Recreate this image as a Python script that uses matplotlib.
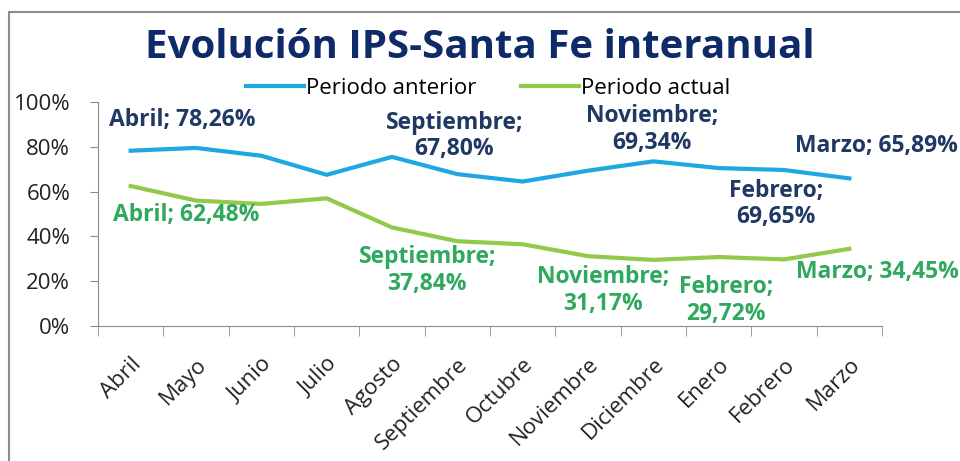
import matplotlib.pyplot as plt
from matplotlib.patches import Rectangle
from matplotlib.ticker import FixedLocator, PercentFormatter

plt.rcParams["font.family"] = ["Open Sans", "DejaVu Sans"]

meses = ["Abril", "Mayo", "Junio", "Julio", "Agosto", "Septiembre", "Octubre",
         "Noviembre", "Diciembre", "Enero", "Febrero", "Marzo"]
anterior = [78.26, 79.5, 76.0, 67.5, 75.5, 67.80, 64.5, 69.34, 73.5, 70.5, 69.65, 65.89]
actual = [62.48, 56.0, 54.5, 57.0, 44.0, 37.84, 36.5, 31.17, 29.5, 30.8, 29.72, 34.45]

azul = "#1ea7e1"
verde = "#92c94a"
azul_txt = "#1f3864"
verde_txt = "#2fa95e"

fig = plt.figure(figsize=(9.6, 4.61), dpi=100)
fig.patches.append(Rectangle((9 / 960, -0.1), 1.2, 1 - 12 / 461 + 0.1,
                             transform=fig.transFigure, fill=False,
                             edgecolor="#8c8c8c", linewidth=1.5))
ax = fig.add_axes([98 / 960, 1 - 326 / 461, 784 / 960, 224 / 461])

x = list(range(len(meses)))
ax.plot(x, anterior, color=azul, linewidth=3, label="Periodo anterior")
ax.plot(x, actual, color=verde, linewidth=3, label="Periodo actual")

ax.set_xlim(-0.5, 11.5)
ax.set_ylim(0, 100)
ax.set_yticks([0, 20, 40, 60, 80, 100])
ax.yaxis.set_major_formatter(PercentFormatter(decimals=0))
ax.set_xticks(x)
ax.set_xticklabels(meses, rotation=45, ha="right", rotation_mode="anchor")
ax.xaxis.set_minor_locator(FixedLocator([i - 0.5 for i in range(13)]))
ax.tick_params(axis="x", which="major", length=0, pad=20, labelsize=16, labelcolor="#222222")
ax.tick_params(axis="x", which="minor", length=7, color="#8c8c8c", direction="out")
ax.tick_params(axis="y", length=6, color="#8c8c8c", labelsize=16, labelcolor="#222222", pad=14)
for s in ["top", "right"]:
    ax.spines[s].set_visible(False)
for s in ["left", "bottom"]:
    ax.spines[s].set_color("#8c8c8c")

etiquetas_ant = {0: (52, 31), 5: (-3, 38), 7: (64, 41), 10: (-8, -34), 11: (27, 32)}
etiquetas_act = {0: (56, -29), 5: (-30, -29), 7: (15, -34), 10: (-58, -41), 11: (28, -23)}
dos_lineas = [5, 7, 10]

def etiquetar(serie, pos, color):
    for i, off in pos.items():
        v = ("%.2f" % serie[i]).replace(".", ",")
        sep = ";\n" if i in dos_lineas else "; "
        ax.annotate(meses[i] + sep + v + "%", (i, serie[i]), xytext=off,
                    textcoords="offset pixels", ha="center", va="center",
                    fontsize=16.5, fontweight="bold", color=color,
                    linespacing=1.15, annotation_clip=False)

etiquetar(anterior, etiquetas_ant, azul_txt)
etiquetar(actual, etiquetas_act, verde_txt)

fig.text(0.5, 1 - 48 / 461, "Evolución IPS-Santa Fe interanual", ha="center", va="center",
         fontsize=29, fontweight="bold", color="#0f2a68")
fig.legend(loc="center", bbox_to_anchor=(488 / 960, 1 - 88 / 461), ncol=2,
           frameon=False, fontsize=16, handlelength=2.6, handletextpad=0.1,
           columnspacing=2.0)

fig.savefig("out.png", dpi=100)
